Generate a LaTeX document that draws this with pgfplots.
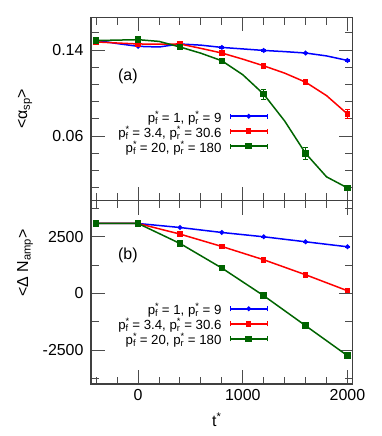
\documentclass[border=0pt]{standalone}
\usepackage{fontspec}
\setmainfont{Liberation Sans}
\usepackage{pgfplots}
\pgfplotsset{compat=1.18}
\definecolor{cblue}{RGB}{0,0,255}
\definecolor{cred}{RGB}{255,0,0}
\definecolor{cgreen}{RGB}{0,100,0}
\newcommand{\pp}[1]{p\rlap{\textsuperscript{*}}\textsubscript{#1}}
\pgfplotsset{
  common/.style={
    scale only axis, width=261.7bp, height=183.4bp,
    xmin=-450, xmax=2050,
    xtick={0,1000,2000},
    minor xtick={-400,-200,200,400,600,800,1200,1400,1600,1800},
    major tick length=14bp, minor tick length=7.5bp,
    every tick/.style={line width=1bp, black!70},
    axis line style={line width=1.2bp, black!75},
    tick label style={font=\fontsize{16}{18}\selectfont},
    label style={font=\fontsize{16}{18}\selectfont},
    xticklabel style={yshift=-2bp},
    yticklabel style={xshift=-4bp},
    legend plot pos=right,
    legend cell align=right,
    legend style={draw=none, fill=none, font=\fontsize{13.3}{15}\selectfont,
      anchor=north east, row sep=0bp, column sep=8bp, inner sep=0pt,
      nodes={inner sep=0bp, text height=10bp, text depth=5bp}},
    legend image code/.code={
      \draw[##1, sharp plot, mark repeat=2, mark phase=2] plot coordinates {(0bp,3.5bp) (18.5bp,3.5bp) (37bp,3.5bp)};
      \draw[##1, mark=none, line width=1bp] (0bp,0.9bp) -- (0bp,6.1bp);
      \draw[##1, mark=none, line width=1bp] (37bp,0.9bp) -- (37bp,6.1bp);
    },
  },
  sb/.style={cblue, line width=1.5bp, mark=*, mark size=1.6bp},
  sr/.style={cred, line width=1.5bp, mark=square*, mark size=2bp},
  sg/.style={cgreen, line width=1.5bp, mark=square*, mark size=2.5bp},
  eb/.style={error bars/.cd, y dir=both, y explicit,
    error bar style={line width=1bp},
    error mark options={rotate=90, mark size=2.6bp, line width=1bp}},
}
\begin{document}
\begin{tikzpicture}
\useasboundingbox (-91bp,-52bp) rectangle (291bp,384bp);
% ---------------- top panel ----------------
\begin{axis}[common, at={(0bp,183.4bp)}, anchor=south west,
  ymin=0, ymax=0.1705,
  ytick={0.06,0.14}, yticklabels={0.06,0.14},
  minor ytick={0.012,0.028,0.044,0.076,0.092,0.108,0.124,0.156},
  xticklabels={},
  ylabel={<α\textsubscript{sp}>},
  ylabel style={at={(axis description cs:-0.252,0.5)}, anchor=center},
  legend style={at={(axis description cs:0.677,0.483)}},
]
% lines through all points
\addplot[cblue, line width=1.5bp, forget plot] coordinates {
(-400,0.149) (-200,0.146) (0,0.1434) (200,0.1428) (400,0.1456) (600,0.1445)
(800,0.1424) (1000,0.141) (1200,0.1396) (1400,0.1385) (1600,0.1372) (1800,0.1345) (2000,0.1303)};
\addplot[cred, line width=1.5bp, forget plot] coordinates {
(-400,0.1475) (-200,0.1465) (0,0.1456) (200,0.1455) (400,0.1456) (600,0.1415)
(800,0.1372) (1000,0.1315) (1200,0.1253) (1400,0.1185) (1600,0.1101) (1800,0.0976) (2000,0.0805)};
\addplot[cgreen, line width=1.5bp, forget plot] coordinates {
(-400,0.1488) (-200,0.1492) (0,0.1496) (200,0.148) (400,0.1428) (600,0.137)
(800,0.130) (1000,0.117) (1200,0.0989) (1400,0.074) (1600,0.0439) (1800,0.0221) (2000,0.0118)};
% marks with error bars
\addplot[sb, only marks, eb] table[y error=e] {
x y e
-400 0.149 0.0005
0 0.1434 0.0005
400 0.1456 0.0005
800 0.1424 0.0006
1200 0.1396 0.0006
1600 0.1372 0.0006
2000 0.1303 0.0008
};
\addlegendentry{\pp{f} = 1, \pp{r} = 9}
\addplot[sr, only marks, eb] table[y error=e] {
x y e
-400 0.1475 0.0006
0 0.1456 0.0006
400 0.1456 0.0006
800 0.1372 0.0008
1200 0.1253 0.0015
1600 0.1101 0.0013
2000 0.0805 0.0045
};
\addlegendentry{\pp{f} = 3.4, \pp{r} = 30.6}
\addplot[sg, only marks, eb] table[y error=e] {
x y e
-400 0.1488 0.0007
0 0.1496 0.0008
400 0.1428 0.0008
800 0.130 0.0010
1200 0.0989 0.0047
1600 0.0439 0.0055
2000 0.0118 0.0010
};
\addlegendentry{\pp{f} = 20, \pp{r} = 180}
\node[font=\fontsize{16}{18}\selectfont] at (axis description cs:0.141,0.68) {(a)};
\end{axis}
% ---------------- bottom panel ----------------
\begin{axis}[common, at={(0bp,0bp)}, anchor=south west,
  ymin=-4000, ymax=4100,
  ytick={-2500,0,2500}, yticklabels={-2500,0,2500},
  minor ytick={-3750,-1250,1250,3750},
  xticklabels={0,1000,2000},
  xlabel={t\textsuperscript{*}},
  xlabel style={at={(axis description cs:0.481,-0.196)}, anchor=center},
  ylabel={<Δ N\textsubscript{amp}>},
  ylabel style={at={(axis description cs:-0.252,0.66)}, anchor=center},
  legend style={at={(axis description cs:0.677,0.433)}},
]
\addplot[sb, eb] table[y error=e] {
x y e
-400 3089 10
0 3089 10
400 2912 15
800 2692 15
1200 2502 20
1600 2281 20
2000 2061 25
};
\addlegendentry{\pp{f} = 1, \pp{r} = 9}
\addplot[sr, eb] table[y error=e] {
x y e
-400 3089 10
0 3089 10
400 2621 40
800 2074 40
1200 1487 50
1600 825 50
2000 119 60
};
\addlegendentry{\pp{f} = 3.4, \pp{r} = 30.6}
\addplot[sg, eb] table[y error=e] {
x y e
-400 3089 10
0 3089 10
400 2207 20
800 1121 25
1200 -101 30
1600 -1425 30
2000 -2749 40
};
\addlegendentry{\pp{f} = 20, \pp{r} = 180}
\node[font=\fontsize{16}{18}\selectfont] at (axis description cs:0.141,0.704) {(b)};
\end{axis}
\end{tikzpicture}
\end{document}
